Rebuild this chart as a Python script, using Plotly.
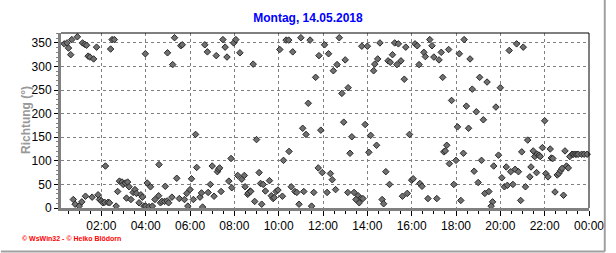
import plotly.graph_objects as go
from datetime import datetime, timedelta

# minutes after midnight and wind direction (degrees)
minutes = [
    19.5, 27, 31, 37, 40, 55, 69, 75, 80, 84, 89, 99, 107, 145, 149, 155, 239, 299, 313, 318, 335, 339,
    44, 49, 60, 67, 77, 95, 111, 115, 120, 124, 129, 131, 138, 142, 160, 164, 169, 176, 179, 185, 188,
    191, 195, 200, 206, 211, 215, 222, 227, 231, 235, 240, 244, 249, 253, 258, 265, 275, 276, 280, 284,
    291, 293, 298, 302, 311, 324, 331, 345, 351, 354,
    400, 407, 431, 449, 455, 460, 478, 484, 495, 531, 603, 620, 627, 638, 660, 685, 700,
    375, 540, 665, 674, 680,
    360, 364, 369, 378, 387, 391, 394, 409, 415, 420, 425, 434, 437, 440, 444, 465, 471, 473, 489, 500,
    507, 509, 516, 518, 523, 524, 535, 547, 551, 554, 558, 564, 575, 580, 585, 588, 593, 598, 610, 613,
    628, 634, 644, 649, 655, 668, 689, 695,
    709, 724, 735, 748, 758, 764, 780, 825, 840, 857, 860, 868, 874, 896, 902, 908, 914, 920, 924, 931,
    940, 944, 969, 975, 980, 993, 997, 1009, 1015, 1020, 1034, 1040, 1044,
    771, 788, 714, 776, 798, 834, 849, 865, 793, 844, 954, 1047,
    707, 718, 740, 745, 731, 754, 787, 804, 815, 822, 809, 828, 818, 880, 884, 890, 900, 935, 948, 960,
    964, 982, 988, 1004, 1028,
    1060, 1068, 1089, 1102, 1108, 1118, 1124, 1135, 1144, 1154, 1164, 1084, 1114, 1188, 1200, 1224, 1244,
    1262, 1320,
    1055, 1051, 1062, 1080, 1074, 1100, 1129, 1149, 1140, 1158, 1169, 1179, 1175, 1182, 1195, 1204, 1211,
    1216, 1219, 1228, 1234, 1240, 1249, 1255, 1258, 1268, 1274, 1280, 1283, 1289, 1293, 1298, 1300, 1305,
    1308, 1314, 1323, 1329, 1335, 1338, 1342, 1348, 1354, 1358, 1363, 1367, 1371, 1375, 1379, 1384, 1388,
    1394, 1398, 1403, 1407, 1411, 1420, 1427, 1435, 1093,
]
richtung = [
    348, 350, 339, 325, 357, 363, 350, 347, 345, 322, 320, 316, 341, 337, 357, 357, 327, 329, 304, 361, 344, 346,
    18, 8, 4, 13, 25, 23, 28, 18, 15, 11, 12, 89, 12, 11, 4, 35, 57, 55, 50, 53, 21,
    55, 45, 18, 33, 39, 31, 11, 28, 23, 4, 4, 53, 3, 45, 4, 18, 26, 92, 11, 14,
    14, 46, 15, 11, 23, 63, 20, 18, 31, 4,
    346, 331, 323, 357, 341, 320, 350, 357, 329, 305, 336, 356, 356, 331, 361, 356, 277,
    156, 145, 169, 156, 222,
    39, 62, 18, 86, 23, 32, 2, 33, 50, 89, 25, 77, 82, 85, 35, 57, 105, 43, 69, 61,
    69, 45, 29, 32, 36, 35, 14, 75, 52, 8, 50, 36, 58, 26, 20, 22, 35, 38, 25, 101,
    120, 45, 35, 33, 8, 35, 4, 33,
    323, 346, 327, 291, 304, 361, 314, 343, 343, 291, 305, 316, 350, 312, 309, 325, 350, 304, 348, 312,
    273, 341, 348, 344, 304, 330, 321, 357, 344, 320, 314, 330, 277,
    243, 255, 165, 182, 151, 177, 154, 133, 116, 118, 156, 119,
    85, 75, 73, 60, 33, 39, 33, 33, 26, 20, 18, 20, 11, 18, 9, 77, 50, 25, 31, 59,
    62, 52, 46, 20, 20,
    336, 228, 327, 357, 216, 316, 252, 204, 277, 187, 267, 172, 169, 214, 255, 334, 348,
    341, 185,
    133, 121, 94, 101, 50, 116, 78, 101, 54, 31, 35, 13, 4, 89, 112, 64, 45,
    87, 48, 77, 50, 82, 77, 16, 119, 45, 144, 66, 87, 121, 109, 75, 114, 112,
    109, 128, 73, 66, 125, 106, 105, 34, 70, 73, 79, 84, 27, 121, 89, 85, 109,
    114, 114, 114, 114, 114, 114, 114, 114, 16,
]
x_ticks_every_hours = 2
y_ticks = [0, 50, 100, 150, 200, 250, 300, 350]

base = datetime(2018, 5, 14)
times = [base + timedelta(minutes=m) for m in minutes]

W, H = 616, 253
L, R, T, B = 61, 597, 33, 208
pw, ph = R - L, B - T


def px_x(px):
    return (px - L) / pw


def px_y(py):
    return (B - py) / ph


fig = go.Figure(go.Scatter(
    x=times, y=richtung, mode='markers',
    marker=dict(symbol='diamond', size=5, color='#707070', line=dict(color='#2a2a2a', width=1)),
    cliponaxis=False, hoverinfo='skip'))

fig.update_layout(
    width=W, height=H,
    margin=dict(l=L, r=W - R, t=T, b=H - B, pad=0),
    paper_bgcolor='white', plot_bgcolor='white', showlegend=False,
    font=dict(family='Arial, Liberation Sans, sans-serif', size=12, color='black'),
    title=dict(text='<b>Montag, 14.05.2018</b>', x=0.5, xref='container', xanchor='center',
               y=1 - 18 / H, yref='container', yanchor='middle',
               font=dict(color='#0000ff', size=12)),
)

fig.update_xaxes(
    type='date',
    range=[base + timedelta(minutes=10.7), base + timedelta(days=1, milliseconds=1)],
    tick0=base, dtick=x_ticks_every_hours * 3600000, tickformat='%H:%M',
    ticks='outside', ticklen=5, tickcolor='black',
    showgrid=True, gridcolor='#808080', griddash='3px,3px', gridwidth=1,
    showline=True, linecolor='#808080', linewidth=3, zeroline=False,
    minor=dict(dtick=1800000, ticks='outside', ticklen=3, tickcolor='black', showgrid=False),
    tickfont=dict(size=12, color='black'),
)
fig.update_yaxes(
    range=[0, 371], tickvals=y_ticks,
    ticks='outside', ticklen=4, tickcolor='black',
    showgrid=True, gridcolor='#808080', griddash='3px,3px', gridwidth=1,
    showline=True, linecolor='#808080', linewidth=3, zeroline=False,
    minor=dict(dtick=10, ticks='outside', ticklen=2, tickcolor='#808080', showgrid=False),
    tickfont=dict(size=12, color='black'),
)

shapes = [
    dict(type='line', xref='paper', yref='paper', x0=0, x1=1, y0=1, y1=1,
         line=dict(color='black', width=1), layer='above'),
    dict(type='line', xref='paper', yref='paper', x0=1, x1=1, y0=0, y1=1,
         line=dict(color='black', width=1), layer='above'),
    dict(type='line', xref='paper', yref='paper', x0=px_x(613), x1=px_x(613), y0=px_y(0), y1=px_y(251.5),
         line=dict(color='#a0a0a0', width=2)),
    dict(type='line', xref='paper', yref='paper', x0=px_x(0), x1=px_x(613), y0=px_y(251.5), y1=px_y(251.5),
         line=dict(color='#a0a0a0', width=2)),
]
fig.update_layout(shapes=shapes)

fig.add_annotation(text='<b>Richtung (°)</b>', xref='paper', yref='paper', x=px_x(25), y=0.5,
                   xanchor='center', yanchor='middle', textangle=-90, showarrow=False,
                   font=dict(color='#999999', size=12))
fig.add_annotation(text='<b>© WsWin32 - © Heiko Blödorn</b>', xref='paper', yref='paper',
                   x=px_x(19), y=px_y(238), xanchor='left', yanchor='middle', showarrow=False,
                   font=dict(color='#ff0000', size=7))

fig.write_html('out.html')
